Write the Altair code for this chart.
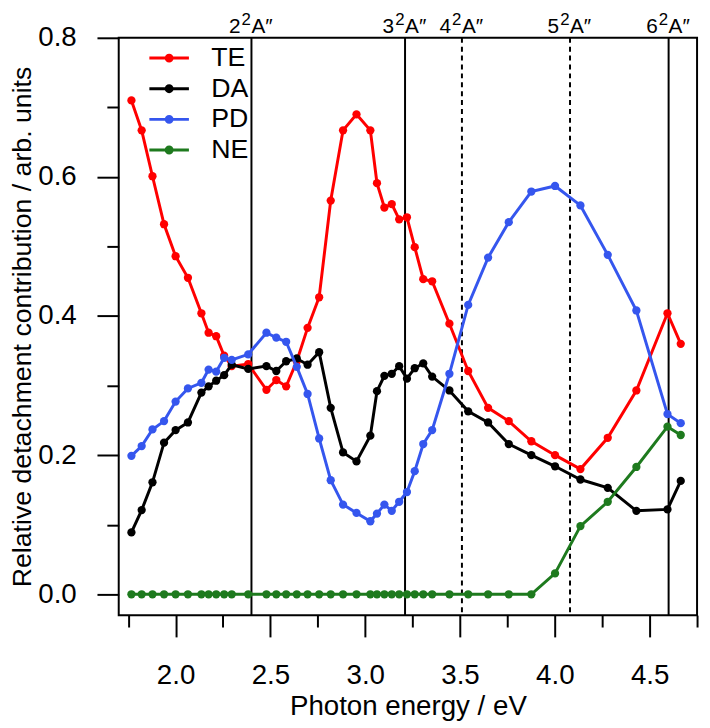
import altair as alt
import pandas as pd

FONT = "Liberation Sans"

# Photon energies (eV) of the measured points
energy = [1.767, 1.821, 1.878, 1.939, 2.000, 2.065, 2.136, 2.174, 2.214, 2.256, 2.296,
          2.383, 2.479, 2.531, 2.583, 2.639, 2.696, 2.757, 2.818, 2.883, 2.954, 3.027,
          3.062, 3.101, 3.140, 3.179, 3.220, 3.261, 3.306, 3.353, 3.444, 3.543, 3.648,
          3.757, 3.876, 4.001, 4.135, 4.279, 4.430, 4.594, 4.664]

te = [0.710, 0.667, 0.601, 0.532, 0.486, 0.455, 0.404, 0.376, 0.371, 0.343, 0.328,
      0.331, 0.294, 0.308, 0.299, 0.335, 0.383, 0.427, 0.566, 0.667, 0.690, 0.667,
      0.591, 0.556, 0.561, 0.539, 0.542, 0.499, 0.453, 0.450, 0.389, 0.321, 0.268,
      0.249, 0.220, 0.200, 0.180, 0.225, 0.293, 0.404, 0.360]

da = [0.089, 0.121, 0.161, 0.218, 0.236, 0.247, 0.290, 0.299, 0.307, 0.315, 0.330,
      0.324, 0.328, 0.321, 0.335, 0.339, 0.330, 0.348, 0.268, 0.204, 0.191, 0.228,
      0.292, 0.314, 0.317, 0.328, 0.310, 0.325, 0.332, 0.313, 0.293, 0.263, 0.247,
      0.216, 0.200, 0.184, 0.165, 0.153, 0.120, 0.122, 0.163]

pdv = [0.199, 0.213, 0.237, 0.249, 0.277, 0.296, 0.304, 0.323, 0.320, 0.340, 0.337,
       0.345, 0.376, 0.369, 0.363, 0.327, 0.288, 0.224, 0.164, 0.129, 0.117, 0.105,
       0.116, 0.129, 0.120, 0.133, 0.147, 0.177, 0.216, 0.236, 0.317, 0.416, 0.484,
       0.535, 0.579, 0.587, 0.559, 0.488, 0.408, 0.259, 0.246]

ne = [0.0, 0.0, 0.0, 0.0, 0.0, 0.0, 0.0, 0.0, 0.0, 0.0, 0.0,
      0.0, 0.0, 0.0, 0.0, 0.0, 0.0, 0.0, 0.0, 0.0, 0.0, 0.0,
      0.0, 0.0, 0.0, 0.0, 0.0, 0.0, 0.0, 0.0, 0.0, 0.0, 0.0,
      0.0, 0.0, 0.030, 0.098, 0.133, 0.183, 0.241, 0.229]

series_names = ["TE", "DA", "PD", "NE"]
series_values = [te, da, pdv, ne]
series_colors = ["#FF0000", "#000000", "#3556EE", "#1E7A1E"]

# Electronic states marked by vertical lines: n²A″
state_energy = [2.400, 3.210, 3.510, 4.080, 4.600]
state_number = ["2", "3", "4", "5", "6"]
state_sup = ["2", "2", "2", "2", "2"]
state_term = ["A″", "A″", "A″", "A″", "A″"]
state_style = ["solid", "solid", "dashed", "dashed", "solid"]

x_major = [2.0, 2.5, 3.0, 3.5, 4.0, 4.5]
x_minor = [1.75, 2.25, 2.75, 3.25, 3.75, 4.25, 4.75]
y_major = [0.0, 0.2, 0.4, 0.6, 0.8]
y_minor = [0.1, 0.3, 0.5, 0.7]

rows = []
for name, vals in zip(series_names, series_values):
    for e, v in zip(energy, vals):
        rows.append({"series": name, "energy": e, "value": v})
df = pd.DataFrame(rows)
states = pd.DataFrame({"energy": state_energy, "num": state_number, "sup": state_sup,
                       "term": state_term, "style": state_style})

x_scale = alt.Scale(domain=[1.70, 4.75], nice=False, zero=False)
y_scale = alt.Scale(domain=[-0.03, 0.80], nice=False, zero=False)
color_scale = alt.Scale(domain=series_names, range=series_colors)

SYMBOL = ("M-1.27,0L1.27,0"
          "M-0.19,0a0.19,0.19 0 1,0 0.38,0a0.19,0.19 0 1,0 -0.38,0"
          "M-0.06,0a0.06,0.06 0 1,0 0.12,0a0.06,0.06 0 1,0 -0.12,0")

legend = alt.Legend(title=None, orient="none", legendX=33.5, legendY=3,
                    symbolType=SYMBOL, symbolSize=992, symbolStrokeWidth=3,
                    labelFontSize=27, labelFont=FONT, labelColor="black",
                    labelOffset=25, rowPadding=0, padding=0)

major_x = alt.Axis(values=x_major, format=".1f", orient="bottom", tickSize=22, tickWidth=2,
                   tickColor="black", domain=False, grid=False, labelFontSize=28,
                   labelFont=FONT, labelColor="black", labelPadding=25,
                   title="Photon energy / eV", titleFont=FONT, titleFontSize=28,
                   titleFontWeight="normal", titleColor="black", titlePadding=3)
major_y = alt.Axis(values=y_major, format=".1f", orient="left", tickSize=22, tickWidth=2,
                   tickColor="black", domain=False, grid=False, labelFontSize=28,
                   labelFont=FONT, labelColor="black", labelPadding=21,
                   title="Relative detachment contribution / arb. units",
                   titleFont=FONT, titleFontSize=27, titleFontWeight="normal",
                   titleColor="black", titlePadding=1)
minor_x = alt.Axis(values=x_minor, orient="bottom", tickSize=12, tickWidth=2,
                   tickColor="black", domain=False, grid=False, labels=False, title=None)
minor_y = alt.Axis(values=y_minor, orient="left", tickSize=12, tickWidth=2,
                   tickColor="black", domain=False, grid=False, labels=False, title=None)

rules = alt.Chart(states).mark_rule(color="black", strokeWidth=2).encode(
    x=alt.X("energy:Q", scale=x_scale, axis=None),
    strokeDash=alt.StrokeDash("style:N", scale=alt.Scale(domain=["solid", "dashed"],
                                                           range=[[1, 0], [5, 4]]),
                              legend=None),
)

base_lab = alt.Chart(states).encode(
    x=alt.X("energy:Q", scale=x_scale, axis=None),
    y=alt.value(-5),
)
lab_num = base_lab.mark_text(font=FONT, fontSize=21, baseline="alphabetic", align="right",
                             dx=-11, color="black").encode(text="num:N")
lab_sup = base_lab.mark_text(font=FONT, fontSize=17, baseline="alphabetic", align="left",
                             dx=-10, dy=-8, color="black").encode(text="sup:N")
lab_term = base_lab.mark_text(font=FONT, fontSize=21, baseline="alphabetic", align="left",
                              dx=0, color="black").encode(text="term:N")

minor_layer = alt.Chart(df).mark_point(opacity=0).encode(
    x=alt.X("energy:Q", scale=x_scale, axis=minor_x),
    y=alt.Y("value:Q", scale=y_scale, axis=minor_y),
)

layers = [rules, lab_num, lab_sup, lab_term, minor_layer]
for i, name in enumerate(series_names):
    sub = alt.Chart(df).transform_filter(alt.datum.series == name)
    xa = major_x if i == 0 else None
    ya = major_y if i == 0 else None
    line = sub.mark_line(strokeWidth=3).encode(
        x=alt.X("energy:Q", scale=x_scale, axis=xa),
        y=alt.Y("value:Q", scale=y_scale, axis=ya),
        color=alt.Color("series:N", scale=color_scale, legend=legend),
    )
    pts = sub.mark_point(filled=True, size=70, opacity=1).encode(
        x=alt.X("energy:Q", scale=x_scale, axis=None),
        y=alt.Y("value:Q", scale=y_scale, axis=None),
        color=alt.Color("series:N", scale=color_scale, legend=legend),
    )
    layers += [line, pts]

chart = alt.layer(*layers).resolve_axis(x="independent", y="independent").properties(
    width=585, height=584, autosize="none",
    padding={"left": 112, "top": 26, "right": 5, "bottom": 110},
).configure_view(stroke="black", strokeWidth=2).configure_axis(grid=False)

chart.save("out.html", embed_options={"renderer": "svg", "actions": False})
